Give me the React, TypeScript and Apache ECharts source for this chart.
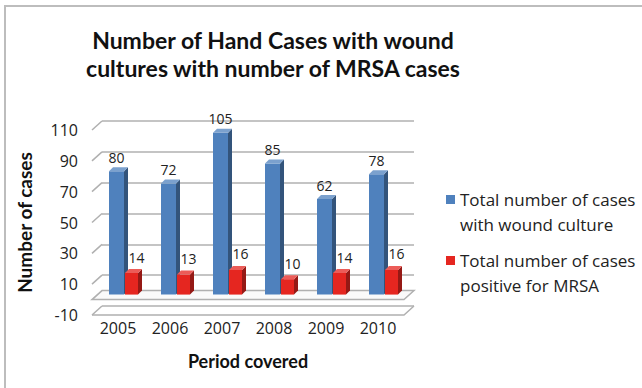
import React, { useEffect, useRef } from "react";
import * as echarts from "echarts";

const years = ["2005", "2006", "2007", "2008", "2009", "2010"];
const woundCulture = [80, 72, 105, 85, 62, 78];
const mrsaPositive = [14, 13, 16, 10, 14, 16];
const yTicks = [-10, 10, 30, 50, 70, 90, 110];
const seriesNames = [
  "Total number of cases\nwith wound culture",
  "Total number of cases\npositive for MRSA",
];

const BOLD_FONT = "Lato, 'Open Sans', sans-serif";
const FONT = "'Open Sans', Lato, sans-serif";
const BACK_DX = 10;
const BACK_DY = -9;
const GRID_COLOR = "#b0b0b0";

function shade(hex: string, f: number) {
  const n = parseInt(hex.slice(1), 16);
  const r = (n >> 16) & 255, g = (n >> 8) & 255, b = n & 255;
  const m = (c: number) => Math.max(0, Math.min(255, Math.round(f < 0 ? c * (1 + f) : c + (255 - c) * f)));
  return "rgb(" + m(r) + "," + m(g) + "," + m(b) + ")";
}

function barRenderer(color: string, offX: number, width: number, labelDx: number, labelDy: number) {
  return (params: any, api: any) => {
    const idx = api.value(0);
    const val = api.value(1);
    const top = api.coord([idx, val]);
    const base = api.coord([idx, 0]);
    const sx = 3, sy = -5, dx = 4, dy = -4;
    const x0 = top[0] + offX + sx;
    const yt = top[1] + sy;
    const yb = base[1] + sy;
    const w = width;
    return {
      type: "group",
      children: [
        { type: "rect", shape: { x: x0, y: yt, width: w, height: yb - yt }, style: { fill: color } },
        {
          type: "polygon",
          shape: { points: [[x0 + w, yt], [x0 + w + dx, yt + dy], [x0 + w + dx, yb + dy], [x0 + w, yb]] },
          style: { fill: shade(color, -0.35) },
        },
        {
          type: "polygon",
          shape: { points: [[x0, yt], [x0 + dx, yt + dy], [x0 + w + dx, yt + dy], [x0 + w, yt]] },
          style: { fill: shade(color, 0.25) },
        },
        {
          type: "text",
          x: x0 + w / 2 + labelDx,
          y: yt + labelDy,
          style: {
            text: String(val),
            fill: "#222",
            font: "14px " + FONT,
            align: "center",
            verticalAlign: "middle",
          },
        },
      ],
    };
  };
}

export default function App() {
  const ref = useRef<HTMLDivElement>(null);
  useEffect(() => {
    if (!ref.current) return;
    const chart = echarts.init(ref.current, null, { renderer: "svg" });
    const option: any = {
      animation: false,
      backgroundColor: "#fff",
      title: {
        text: "Number of Hand Cases with wound\ncultures with number of MRSA cases",
        left: 268,
        top: 21,
        textAlign: "center",
        textStyle: { fontFamily: BOLD_FONT, fontSize: 23, fontWeight: "bold", color: "#111", lineHeight: 28 },
      },
      legend: {
        orient: "vertical",
        left: 441,
        top: 157,
        icon: "rect",
        itemWidth: 9,
        itemHeight: 9,
        itemGap: -14,
        data: seriesNames,
        formatter: (name: string) => "\n" + name,
        textStyle: { fontFamily: FONT, fontSize: 17, color: "#222", lineHeight: 25 },
      },
      graphic: [
        {
          type: "rect",
          shape: { x: 5, y: 6, width: 660, height: 400 },
          style: { fill: "none", stroke: "#bdbdbd", lineWidth: 2 },
          silent: true,
        },
      ],
      grid: [
        { left: 92, right: 238, top: 130, bottom: 73 },
        { left: 92 + BACK_DX, right: 238 - BACK_DX, top: 130 + BACK_DY, bottom: 73 - BACK_DY },
      ],
      xAxis: [
        {
          type: "category",
          data: years,
          gridIndex: 0,
          axisLine: { show: false },
          axisTick: { show: false },
          axisLabel: { fontFamily: FONT, fontSize: 16, color: "#222", margin: 5 },
          name: "Period covered",
          nameLocation: "middle",
          nameGap: 37,
          nameTextStyle: { fontFamily: BOLD_FONT, fontSize: 18, fontWeight: "bold", color: "#111" },
        },
        {
          type: "category",
          data: years,
          gridIndex: 1,
          show: false,
        },
      ],
      yAxis: [
        {
          type: "value",
          gridIndex: 0,
          min: -10,
          max: 110,
          interval: 20,
          axisLine: { show: false },
          axisTick: { show: false },
          splitLine: { show: false },
          axisLabel: { fontFamily: FONT, fontSize: 16, color: "#222", margin: 14 },
          name: "Number of cases",
          nameLocation: "middle",
          nameGap: 58,
          nameTextStyle: { fontFamily: BOLD_FONT, fontSize: 19, fontWeight: "bold", color: "#111" },
        },
        {
          type: "value",
          gridIndex: 1,
          min: -10,
          max: 110,
          interval: 20,
          axisLine: { show: false },
          axisTick: { show: false },
          axisLabel: { show: false },
          splitLine: { show: true, lineStyle: { color: GRID_COLOR, width: 1.5 } },
        },
      ],
      series: [
        {
          type: "custom",
          name: "walls",
          xAxisIndex: 0,
          yAxisIndex: 0,
          silent: true,
          data: yTicks.map((v) => [0, v]),
          renderItem: (params: any, api: any) => {
            const v = api.value(1);
            const p = api.coord([0, v]);
            const cs = params.coordSys;
            const left = cs.x;
            const right = cs.x + cs.width;
            const children: any[] = [
              {
                type: "line",
                shape: { x1: left, y1: p[1], x2: left + BACK_DX, y2: p[1] + BACK_DY },
                style: { stroke: GRID_COLOR, lineWidth: 1.5 },
              },
            ];
            if (v === -10) {
              children.push({
                type: "polyline",
                shape: { points: [[left, p[1]], [right, p[1]], [right + BACK_DX, p[1] + BACK_DY]] },
                style: { stroke: GRID_COLOR, lineWidth: 1.5, fill: "none" },
              });
            }
            return { type: "group", children };
          },
          z: 1,
        },
        {
          type: "custom",
          name: "floor",
          xAxisIndex: 0,
          yAxisIndex: 0,
          silent: true,
          data: [[0, 0]],
          renderItem: (params: any, api: any) => {
            const p = api.coord([0, 0]);
            const cs = params.coordSys;
            const left = cs.x;
            const right = cs.x + cs.width;
            return {
              type: "polygon",
              shape: {
                points: [[left, p[1]], [right, p[1]], [right + BACK_DX, p[1] + BACK_DY], [left + BACK_DX, p[1] + BACK_DY]],
              },
              style: { fill: "#fafafa", stroke: GRID_COLOR, lineWidth: 1.5 },
            };
          },
          z: 1,
        },
        {
          type: "custom",
          name: seriesNames[0],
          xAxisIndex: 0,
          yAxisIndex: 0,
          itemStyle: { color: "#4F81BD" },
          data: woundCulture.map((v, i) => [i, v]),
          renderItem: barRenderer("#4F81BD", -12, 15, 0, -14),
          z: 3,
        },
        {
          type: "custom",
          name: seriesNames[1],
          xAxisIndex: 0,
          yAxisIndex: 0,
          itemStyle: { color: "#E52620" },
          data: mrsaPositive.map((v, i) => [i, v]),
          renderItem: barRenderer("#E52620", 4, 13, 5, -16),
          z: 4,
        },
      ],
    };
    chart.setOption(option);
    return () => chart.dispose();
  }, []);
  return (
    <div
      ref={ref}
      style={{ position: "fixed", left: 0, top: 0, width: 642, height: 388 }}
    />
  );
}
